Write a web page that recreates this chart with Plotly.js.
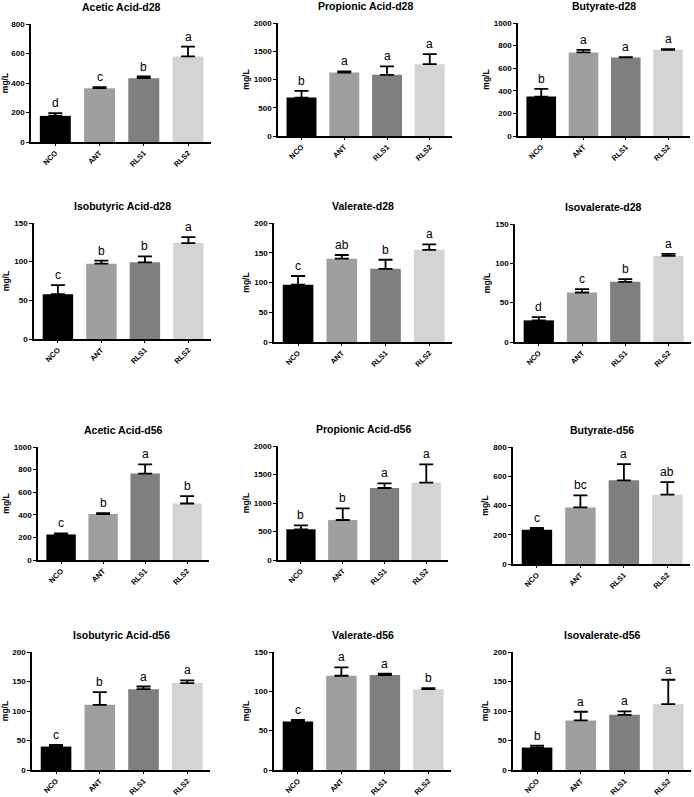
<!DOCTYPE html>
<html>
<head>
<meta charset="utf-8">
<script src="https://cdn.plot.ly/plotly-3.0.1.min.js"></script>
<style>
  html, body { margin: 0; padding: 0; background: #fff; }
  #chart { width: 694px; height: 797px; }
</style>
</head>
<body>
<div id="chart"></div>
<script>
// groups and bar colours
const groups = ['NCO', 'ANT', 'RLS1', 'RLS2'];
const groupColors = ['#000000', '#9f9f9f', '#7f7f7f', '#d4d4d4'];

// day 28
const aceticD28 = [177, 365, 433, 580];
const aceticD28Err = [18, 7, 11, 66];
const aceticD28Sig = ['d', 'c', 'b', 'a'];

const propionicD28 = [680, 1124, 1083, 1272];
const propionicD28Err = [119, 18, 148, 178];
const propionicD28Sig = ['b', 'a', 'a', 'a'];

const butyrateD28 = [349, 740, 695, 763];
const butyrateD28Err = [68, 23, 3, 6];
const butyrateD28Sig = ['b', 'a', 'a', 'a'];

const isobutyricD28 = [58, 97.4, 99.1, 124];
const isobutyricD28Err = [11.6, 3.9, 7.8, 7.8];
const isobutyricD28Sig = ['c', 'b', 'b', 'a'];

const valerateD28 = [96.4, 140, 123, 155];
const valerateD28Err = [14.5, 6.2, 15.2, 9];
const valerateD28Sig = ['c', 'ab', 'b', 'a'];

const isovalerateD28 = [27.5, 62.9, 76.5, 109.4];
const isovalerateD28Err = [4.2, 4.3, 3.4, 2.6];
const isovalerateD28Sig = ['d', 'c', 'b', 'a'];

// day 56
const aceticD56 = [226, 406, 765, 500];
const aceticD56Err = [9, 9, 82, 65];
const aceticD56Sig = ['c', 'b', 'a', 'b'];

const propionicD56 = [538, 702, 1263, 1357];
const propionicD56Err = [70, 204, 82, 321];
const propionicD56Sig = ['b', 'b', 'a', 'a'];

const butyrateD56 = [235, 387, 572, 474];
const butyrateD56Err = [11, 82, 111, 86];
const butyrateD56Sig = ['c', 'bc', 'a', 'ab'];

const isobutyricD56 = [39.7, 110.5, 137, 147.3];
const isobutyricD56Err = [2.8, 21.5, 4.5, 4.5];
const isobutyricD56Sig = ['c', 'b', 'a', 'a'];

const valerateD56 = [61.6, 119.8, 120.7, 102.8];
const valerateD56Err = [2.1, 10.7, 1.7, 1.3];
const valerateD56Sig = ['c', 'a', 'a', 'b'];

const isovalerateD56 = [38, 84, 93.5, 111.6];
const isovalerateD56Err = [3.4, 14.7, 5.7, 41.4];
const isovalerateD56Sig = ['b', 'a', 'a', 'a'];

// title, values, errors, letters, axis max, tick step
const panels = [
  ['Acetic Acid-d28', aceticD28, aceticD28Err, aceticD28Sig, 800, 200],
  ['Propionic Acid-d28', propionicD28, propionicD28Err, propionicD28Sig, 2000, 500],
  ['Butyrate-d28', butyrateD28, butyrateD28Err, butyrateD28Sig, 1000, 200],
  ['Isobutyric Acid-d28', isobutyricD28, isobutyricD28Err, isobutyricD28Sig, 150, 50],
  ['Valerate-d28', valerateD28, valerateD28Err, valerateD28Sig, 200, 50],
  ['Isovalerate-d28', isovalerateD28, isovalerateD28Err, isovalerateD28Sig, 150, 50],
  ['Acetic Acid-d56', aceticD56, aceticD56Err, aceticD56Sig, 1000, 200],
  ['Propionic Acid-d56', propionicD56, propionicD56Err, propionicD56Sig, 2000, 500],
  ['Butyrate-d56', butyrateD56, butyrateD56Err, butyrateD56Sig, 800, 200],
  ['Isobutyric Acid-d56', isobutyricD56, isobutyricD56Err, isobutyricD56Sig, 200, 50],
  ['Valerate-d56', valerateD56, valerateD56Err, valerateD56Sig, 150, 50],
  ['Isovalerate-d56', isovalerateD56, isovalerateD56Err, isovalerateD56Sig, 200, 50]
];

// plot boxes in pixels: left, right, top, bottom
const boxes = [
  [31, 211, 24, 142], [278, 452, 23, 136], [518, 690, 23, 136],
  [34, 211, 223, 339], [274, 452, 223, 342], [515, 691, 224, 342],
  [38, 209, 447, 560], [278, 448, 446, 560], [513, 690, 447, 564],
  [32, 210, 652, 770], [274, 451, 652, 770], [513, 691, 652, 770]
];

const W = 694, H = 797;
const FONT = 'Liberation Sans, Arial, sans-serif';

const traces = [];
const annotations = [];
const layout = {
  width: W,
  height: H,
  margin: { t: 0, r: 0, b: 0, l: 0 },
  paper_bgcolor: '#ffffff',
  plot_bgcolor: 'rgba(0,0,0,0)',
  showlegend: false,
  font: { family: FONT, color: '#000' }
};

panels.forEach((p, i) => {
  const n = i + 1;
  const xa = 'x' + n, ya = 'y' + n;
  const b = boxes[i];

  traces.push({
    type: 'bar',
    x: groups,
    y: p[1],
    xaxis: xa,
    yaxis: ya,
    width: 0.7,
    marker: { color: groupColors, line: { width: 0 } },
    error_y: {
      type: 'data',
      symmetric: false,
      array: p[2],
      arrayminus: p[2].map(() => 0),
      color: '#000',
      thickness: 1.8,
      width: 7
    },
    hoverinfo: 'x+y'
  });

  layout['xaxis' + n] = {
    domain: [b[0] / W, b[1] / W],
    anchor: ya,
    range: [-0.55, 3.52],
    showline: true,
    linecolor: '#000',
    linewidth: 1.5,
    ticks: 'outside',
    ticklen: 2,
    tickcolor: '#000',
    tickwidth: 1.2,
    tickangle: -45,
    tickfont: { family: FONT, size: 7.5, weight: 'bold', color: '#000' },
    showgrid: false,
    zeroline: false,
    fixedrange: true
  };

  layout['yaxis' + n] = {
    domain: [1 - b[3] / H, 1 - b[2] / H],
    anchor: xa,
    range: [0, p[4]],
    dtick: p[5],
    tick0: 0,
    showline: true,
    linecolor: '#000',
    linewidth: 1.5,
    ticks: 'outside',
    ticklen: 3,
    tickcolor: '#000',
    tickwidth: 1.2,
    tickfont: { family: FONT, size: 8, weight: 'bold', color: '#000' },
    title: {
      text: 'mg/L',
      font: { family: FONT, size: 8.5, weight: 'bold', color: '#000' },
      standoff: 3
    },
    showgrid: false,
    zeroline: false,
    fixedrange: true
  };

  // panel title
  annotations.push({
    xref: xa + ' domain',
    yref: ya + ' domain',
    x: 0.5,
    y: 1,
    yshift: 17,
    yanchor: 'middle',
    showarrow: false,
    text: p[0],
    font: { family: FONT, size: 10.5, weight: 'bold', color: '#000' }
  });

  // significance letters
  groups.forEach((g, k) => {
    annotations.push({
      xref: xa,
      yref: ya,
      x: g,
      y: p[1][k] + p[2][k],
      yanchor: 'bottom',
      yshift: 1,
      showarrow: false,
      text: p[3][k],
      font: { family: FONT, size: 12, color: '#000' }
    });
  });
});

layout.annotations = annotations;

Plotly.newPlot('chart', traces, layout, { displayModeBar: false, responsive: false });
</script>
</body>
</html>
